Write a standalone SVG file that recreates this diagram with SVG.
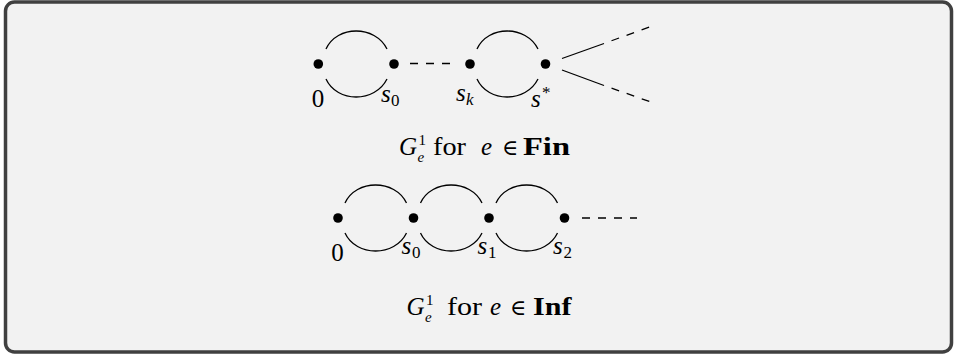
<svg xmlns="http://www.w3.org/2000/svg" width="954" height="356" viewBox="0 0 954 356">
<style>
.t{font-family:"Liberation Serif","DejaVu Serif",serif;fill:#000}
.i{font-style:italic}
.b{font-weight:bold}
.e{fill:none;stroke:#000;stroke-width:1.3}
.d{fill:none;stroke:#000;stroke-width:1.3;stroke-dasharray:8 8}
.n{fill:#000}
</style>
<rect x="5.5" y="2" width="946" height="350" rx="9" fill="#f2f2f2" stroke="#404040" stroke-width="3.5"/>
<g id="connectors">
<path class="e" d="M326,49 C337,25 375,25 387,49"/>
<path class="e" d="M326,79 C337,103 375,103 387,79"/>
<line class="d" x1="410" y1="63.5" x2="450" y2="63.5"/>
<path class="e" d="M477,49 C488,25 526,25 538,49"/>
<path class="e" d="M477,79 C488,103 526,103 538,79"/>
<line class="e" x1="562" y1="58.5" x2="604" y2="43.5"/>
<line class="d" x1="604" y1="43.5" x2="650" y2="26.7" stroke-dashoffset="8"/>
<line class="e" x1="562" y1="70" x2="604" y2="85.5"/>
<line class="d" x1="604" y1="85.5" x2="650" y2="101.7" stroke-dashoffset="8"/>
<path class="e" d="M345,203 C356,179 395,179 406.5,203"/>
<path class="e" d="M345,233 C356,257 395,257 406.5,233"/>
<path class="e" d="M420.5,203 C431.5,179 470.5,179 482,203"/>
<path class="e" d="M420.5,233 C431.5,257 470.5,257 482,233"/>
<path class="e" d="M496,203 C507,179 546,179 557.5,203"/>
<path class="e" d="M496,233 C507,257 546,257 557.5,233"/>
<line class="d" x1="582" y1="218" x2="637" y2="218" stroke-dasharray="8 7.7"/>
</g>
<g id="fin-0"><circle class="n" cx="318.3" cy="64" r="4.8"/><text class="t" x="318" y="107" font-size="25" text-anchor="middle">0</text></g>
<g id="fin-s0"><circle class="n" cx="394" cy="64" r="4.8"/><text class="t i" x="381" y="101.5" font-size="25">s</text><text class="t" x="391" y="105.5" font-size="17">0</text></g>
<g id="fin-sk"><circle class="n" cx="470" cy="64" r="4.8"/><text class="t i" x="456" y="101" font-size="25">s</text><text class="t i" x="466" y="105" font-size="17">k</text></g>
<g id="fin-sstar"><circle class="n" cx="545.5" cy="64" r="4.8"/><text class="t i" x="531" y="107" font-size="25">s</text><text class="t" x="542" y="98" font-size="17">*</text></g>
<g id="caption-fin"><text class="t i" x="399" y="155" font-size="25">G</text><text class="t" x="418.5" y="144.5" font-size="15">1</text><text class="t i" x="417.5" y="162" font-size="15">e</text><text class="t" x="433" y="155" font-size="25" textLength="33" lengthAdjust="spacingAndGlyphs">for</text><text class="t i" x="481" y="155" font-size="25">e</text><text class="t" x="502" y="155" font-size="22">∈</text><text class="t b" x="523" y="155" font-size="25" textLength="47" lengthAdjust="spacingAndGlyphs">Fin</text></g>
<g id="inf-0"><circle class="n" cx="338" cy="218" r="4.8"/><text class="t" x="337.5" y="260.5" font-size="25" text-anchor="middle">0</text></g>
<g id="inf-s0"><circle class="n" cx="413.5" cy="218" r="4.8"/><text class="t i" x="401.5" y="253.5" font-size="25">s</text><text class="t" x="412" y="257.5" font-size="17">0</text></g>
<g id="inf-s1"><circle class="n" cx="489" cy="218" r="4.8"/><text class="t i" x="477.5" y="253.5" font-size="25">s</text><text class="t" x="488" y="257.5" font-size="17">1</text></g>
<g id="inf-s2"><circle class="n" cx="564.5" cy="218" r="4.8"/><text class="t i" x="553" y="253.5" font-size="25">s</text><text class="t" x="563.5" y="257.5" font-size="17">2</text></g>
<g id="caption-inf"><text class="t i" x="406.5" y="315" font-size="25">G</text><text class="t" x="426" y="304.5" font-size="15">1</text><text class="t i" x="425" y="322" font-size="15">e</text><text class="t" x="447" y="315" font-size="25" textLength="35" lengthAdjust="spacingAndGlyphs">for</text><text class="t i" x="490" y="315" font-size="25">e</text><text class="t" x="510" y="315" font-size="22">∈</text><text class="t b" x="533" y="315" font-size="25" textLength="38.5" lengthAdjust="spacingAndGlyphs">Inf</text></g>
</svg>
